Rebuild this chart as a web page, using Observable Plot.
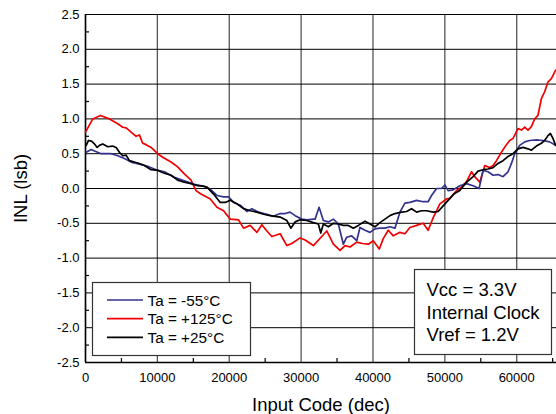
<!DOCTYPE html>
<html>
<head>
<meta charset="utf-8">
<script src="https://cdn.jsdelivr.net/npm/d3@7"></script>
<script src="https://cdn.jsdelivr.net/npm/@observablehq/plot@0.6"></script>
<style>
  html, body { margin: 0; padding: 0; background: #fff; }
  #chart svg { display: block; }
  #chart [aria-label="x-axis label"] text, #chart [aria-label="x-axis label"],
  #chart [aria-label="y-axis label"] text, #chart [aria-label="y-axis label"] { font-size: 18.5px; }
</style>
</head>
<body>
<div id="chart"></div>
<script>
// ---- Data ----
const codesM55 = [97,792,1250,2181,3569,4486,5417,6347,7500,8653,9819,10972,12361,13750,15139,16528,17222,18292,19208,19903,20597,21528,22458,23153,24069,25236,26153,27083,27778,28472,29167,30097,30792,31708,31944,32500,33097,33792,34486,35181,35875,36347,37042,37736,38194,38889,39583,40278,40972,41667,42361,43056,43750,44444,45139,46069,46986,47681,48153,48847,49542,50000,50458,51153,52083,53014,53931,54764,55319,56014,56708,57403,58097,58792,59264,59722,60417,61111,61806,62736,63653,64583,65417];
const inlM55 = [0.52,0.56,0.54,0.50,0.50,0.47,0.43,0.38,0.35,0.32,0.27,0.24,0.16,0.11,0.06,0.03,0.00,-0.10,-0.12,-0.12,-0.20,-0.24,-0.33,-0.29,-0.34,-0.37,-0.40,-0.36,-0.36,-0.34,-0.39,-0.44,-0.45,-0.44,-0.44,-0.27,-0.46,-0.48,-0.44,-0.51,-0.80,-0.70,-0.68,-0.75,-0.56,-0.60,-0.63,-0.58,-0.57,-0.57,-0.55,-0.57,-0.34,-0.21,-0.20,-0.17,-0.19,-0.19,-0.10,0.00,0.00,0.05,-0.03,-0.02,0.04,0.07,0.04,0.00,0.26,0.24,0.19,0.20,0.17,0.24,0.36,0.50,0.62,0.67,0.69,0.70,0.69,0.67,0.62];

const codes125 = [0,1014,2083,3333,4486,5181,5653,6347,7042,7500,7958,8431,9125,10042,10736,11903,12819,13750,14681,15375,16069,16986,17361,18292,19208,20139,21292,21986,22917,23847,24542,25236,25931,27083,28014,28708,29861,30556,31708,32875,33569,34486,35417,36111,36806,37736,38542,39347,40042,40875,41431,42125,42819,43750,44444,45139,46069,46986,47681,48375,48847,49306,50236,50694,51625,52083,53014,53708,54167,54861,55556,56250,56708,57181,57875,58569,59028,59486,60181,60653,61111,61569,62042,62500,62958,63431,63889,64347,64819,65417];
const inl125 = [0.81,1.00,1.05,1.00,0.93,0.88,0.87,0.81,0.75,0.77,0.65,0.63,0.59,0.50,0.45,0.38,0.31,0.21,0.12,-0.03,-0.08,-0.13,-0.15,-0.27,-0.32,-0.44,-0.45,-0.57,-0.53,-0.63,-0.52,-0.61,-0.69,-0.65,-0.82,-0.79,-0.71,-0.74,-0.82,-0.69,-0.61,-0.80,-0.89,-0.82,-0.84,-0.77,-0.79,-0.80,-0.75,-0.87,-0.72,-0.60,-0.68,-0.63,-0.65,-0.56,-0.53,-0.50,-0.60,-0.42,-0.32,-0.22,-0.15,-0.14,-0.03,0.00,0.10,0.24,0.17,0.09,0.33,0.30,0.33,0.40,0.52,0.63,0.69,0.72,0.86,0.84,0.88,0.84,0.89,1.00,1.05,1.29,1.39,1.53,1.58,1.70];

const codes25 = [97,417,833,1250,1625,1944,2403,3097,3750,4264,4722,5181,5653,6111,6806,7500,8194,9125,10042,10972,11903,12819,13750,14681,15597,16528,16903,17819,18750,19444,20139,21069,21986,22917,23847,24764,25694,27083,28014,28569,29167,29861,30792,31708,32403,32736,33097,33792,34486,35181,35875,36569,37264,37958,38889,39583,40278,40972,41667,42361,43056,43986,44681,45375,46069,46764,47458,48375,49069,49764,50458,51250,52083,53014,53931,54625,55319,56014,56708,57403,58097,58792,59486,60181,60875,61569,62042,62736,63431,63889,64347,64681,65042,65417];
const inl25 = [0.62,0.69,0.68,0.64,0.59,0.62,0.64,0.60,0.61,0.59,0.52,0.47,0.48,0.40,0.38,0.36,0.33,0.27,0.26,0.22,0.19,0.12,0.09,0.07,0.04,0.03,0.02,-0.08,-0.20,-0.20,-0.17,-0.22,-0.29,-0.32,-0.34,-0.37,-0.39,-0.41,-0.46,-0.57,-0.48,-0.45,-0.46,-0.49,-0.51,-0.64,-0.51,-0.55,-0.50,-0.51,-0.53,-0.53,-0.57,-0.53,-0.47,-0.51,-0.55,-0.49,-0.44,-0.39,-0.36,-0.34,-0.33,-0.29,-0.34,-0.32,-0.32,-0.34,-0.33,-0.25,-0.17,-0.08,-0.03,0.09,0.17,0.25,0.27,0.28,0.30,0.36,0.40,0.46,0.50,0.57,0.59,0.57,0.55,0.61,0.65,0.69,0.76,0.79,0.72,0.62];

const seriesNames = ["Ta = -55°C", "Ta = +125°C", "Ta = +25°C"];
const seriesColors = ["#33338f", "#f00000", "#000000"];

const xTicks = [0, 10000, 20000, 30000, 40000, 50000, 60000];
const xMinor = [5000, 15000, 25000, 35000, 45000, 55000, 65000];
const yTicks = [-2.5, -2.0, -1.5, -1.0, -0.5, 0.0, 0.5, 1.0, 1.5, 2.0, 2.5];
const yMinor = [-2.25, -1.75, -1.25, -0.75, -0.25, 0.25, 0.75, 1.25, 1.75, 2.25];

const noteLines = ["Vcc = 3.3V", "Internal Clock", "Vref = 1.2V"];

// ---- tidy table built from the arrays ----
const toRows = (codes, vals, name) => codes.map((c, i) => ({code: c, inl: vals[i], series: name}));
const rowsM55 = toRows(codesM55, inlM55, seriesNames[0]);
const rows125 = toRows(codes125, inl125, seriesNames[1]);
const rows25 = toRows(codes25, inl25, seriesNames[2]);

const chart = Plot.plot({
  width: 556,
  height: 414,
  marginLeft: 85,
  marginRight: 0,
  marginTop: 14,
  marginBottom: 52,
  style: {fontFamily: "'Liberation Sans', Arial, sans-serif", fontSize: "13px", color: "#000", background: "#fff", overflow: "visible"},
  x: {domain: [0, 65535]},
  y: {domain: [-2.5, 2.5]},
  marks: [
    Plot.gridX(xTicks, {stroke: "#555", strokeOpacity: 1, strokeWidth: 1.3}),
    Plot.gridY(yTicks, {stroke: "#000", strokeOpacity: 1, strokeWidth: 1}),
    Plot.axisY(yTicks, {tickSize: 0, tickPadding: 6, tickFormat: d => d.toFixed(1), label: "INL (lsb)", labelAnchor: "center", labelOffset: 72, labelArrow: false}),
    Plot.axisY(yMinor, {tickSize: 4, dx: 4, strokeWidth: 1.2, tickFormat: () => "", label: null}),
    Plot.axisX(xTicks, {tickSize: 0, tickPadding: 10, tickFormat: d => String(d), label: "Input Code (dec)", labelAnchor: "center", labelOffset: 48, labelArrow: false}),
    Plot.axisX(xMinor, {tickSize: 4, dy: -4, strokeWidth: 1.2, tickFormat: () => "", label: null}),
    Plot.ruleX([0], {stroke: "#000", strokeWidth: 1.5}),
    Plot.ruleY([-2.5], {stroke: "#000", strokeWidth: 1.5}),
    Plot.line(rows125, {x: "code", y: "inl", stroke: seriesColors[1], strokeWidth: 1.7}),
    Plot.line(rowsM55, {x: "code", y: "inl", stroke: seriesColors[0], strokeWidth: 1.7}),
    Plot.line(rows25, {x: "code", y: "inl", stroke: seriesColors[2], strokeWidth: 1.7})
  ]
});

document.getElementById("chart").appendChild(chart);

// ---- in-plot legend and note box ----
const svg = d3.select(chart);
const font = "'Liberation Sans', Arial, sans-serif";
const lg = svg.append("g").attr("text-anchor", "start");
lg.append("rect").attr("x", 92.5).attr("y", 282.5).attr("width", 158).attr("height", 73)
  .attr("fill", "#fff").attr("stroke", "#333").attr("stroke-width", 1.2);
seriesNames.forEach((name, i) => {
  const y = 300 + i * 18.7;
  lg.append("line").attr("x1", 107).attr("x2", 143).attr("y1", y).attr("y2", y)
    .attr("stroke", seriesColors[i]).attr("stroke-width", 1.7);
  lg.append("text").attr("x", 147.5).attr("y", y).attr("dy", "0.36em").attr("text-anchor", "start")
    .attr("font-family", font).attr("font-size", 15.3).attr("fill", "#000").text(name);
});

const nb = svg.append("g").attr("text-anchor", "start");
nb.append("rect").attr("x", 414.5).attr("y", 269.5).attr("width", 137).attr("height", 85)
  .attr("fill", "#fff").attr("stroke", "#333").attr("stroke-width", 1.2);
noteLines.forEach((t, i) => {
  nb.append("text").attr("x", 426.5).attr("y", 296 + i * 22.7).attr("text-anchor", "start")
    .attr("font-family", font).attr("font-size", 18.5).attr("fill", "#000").text(t);
});
</script>
</body>
</html>
